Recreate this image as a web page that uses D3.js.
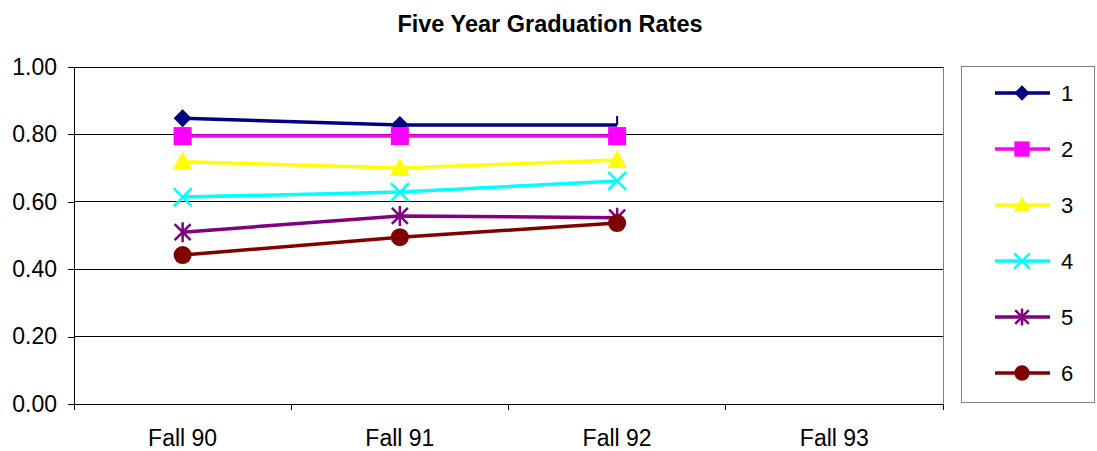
<!DOCTYPE html>
<html><head><meta charset="utf-8">
<script src="https://cdn.jsdelivr.net/npm/d3@7"></script>
<style>body{margin:0;background:#fff}svg{display:block}text{font-family:"Liberation Sans",Arial,sans-serif}</style>
</head><body>
<svg id="c" width="1097" height="451"></svg>
<script>
const categories = ["Fall 90", "Fall 91", "Fall 92", "Fall 93"];
const seriesNames = ["1", "2", "3", "4", "5", "6"];
const s1 = [0.848, 0.828, 0.828];
const s2 = [0.795, 0.795, 0.795];
const s3 = [0.719, 0.700, 0.724];
const s4 = [0.614, 0.629, 0.662];
const s5 = [0.510, 0.558, 0.553];
const s6 = [0.442, 0.495, 0.537];
const yTicks = [0, 0.2, 0.4, 0.6, 0.8, 1.0];
const colors = ["#000080", "#ff00ff", "#ffff00", "#00ffff", "#800080", "#800000"];
const markers = ["diamond", "square", "triangle", "x", "asterisk", "circle"];
const values = [s1, s2, s3, s4, s5, s6];

const svg = d3.select("#c");
const L = 74, R = 943, T = 67, B = 404;
const x = d3.scaleBand().domain(categories).range([L, R]);
const y = d3.scaleLinear().domain([0, 1]).range([B, T]);

svg.append("text").attr("x", 550).attr("y", 32).attr("text-anchor", "middle")
  .attr("font-size", 23.5).attr("font-weight", "bold").text("Five Year Graduation Rates");

svg.append("g").selectAll("line").data(yTicks.slice(1)).join("line")
  .attr("x1", L).attr("x2", R).attr("y1", d => y(d)).attr("y2", d => y(d))
  .attr("stroke", "#000").attr("stroke-width", 1).attr("shape-rendering", "crispEdges");
svg.append("line").attr("x1", R).attr("x2", R).attr("y1", T).attr("y2", B)
  .attr("stroke", "#808080").attr("shape-rendering", "crispEdges");

const yAxis = svg.append("g").attr("transform", `translate(${L},0)`)
  .call(d3.axisLeft(y).tickValues(yTicks).tickFormat(d3.format(".2f")).tickSizeOuter(0).tickSize(6).tickPadding(11));
yAxis.selectAll("text").attr("font-size", 23).attr("font-family", "Liberation Sans, Arial, sans-serif").attr("fill", "#000");
yAxis.selectAll("line,path").attr("stroke", "#000").attr("shape-rendering", "crispEdges");

const xAxis = svg.append("g").attr("transform", `translate(0,${B})`)
  .call(d3.axisBottom(x).tickSize(0).tickPadding(26));
xAxis.select("path").attr("stroke", "#000").attr("shape-rendering", "crispEdges");
xAxis.selectAll("text").attr("font-size", 23).attr("font-family", "Liberation Sans, Arial, sans-serif").attr("fill", "#000");
const bounds = categories.map(c => x(c)).concat([R]);
svg.append("g").selectAll("line").data(bounds).join("line")
  .attr("x1", d => d).attr("x2", d => d).attr("y1", B).attr("y2", B + 6)
  .attr("stroke", "#000").attr("shape-rendering", "crispEdges");

function drawMarker(g, type, color, cx, cy, k) {
  k = k || 1;
  if (type === "diamond") {
    const s = 9 * k;
    g.append("path").attr("d", `M${cx},${cy-s}L${cx+s},${cy}L${cx},${cy+s}L${cx-s},${cy}Z`).attr("fill", color);
  } else if (type === "square") {
    const s = 9 * k;
    g.append("rect").attr("x", cx-s).attr("y", cy-s).attr("width", 2*s).attr("height", 2*s).attr("fill", color);
  } else if (type === "triangle") {
    const s = 10 * k;
    g.append("path").attr("d", `M${cx},${cy-s}L${cx+s},${cy+0.8*s}L${cx-s},${cy+0.8*s}Z`).attr("fill", color);
  } else if (type === "x") {
    const s = 9 * k;
    g.append("path").attr("d", `M${cx-s},${cy-s}L${cx+s},${cy+s}M${cx+s},${cy-s}L${cx-s},${cy+s}`)
      .attr("stroke", color).attr("stroke-width", 2.5).attr("fill", "none");
  } else if (type === "asterisk") {
    const s = 8 * k;
    g.append("path").attr("d", `M${cx-s},${cy-s}L${cx+s},${cy+s}M${cx+s},${cy-s}L${cx-s},${cy+s}M${cx},${cy-1.25*s}L${cx},${cy+1.25*s}`)
      .attr("stroke", color).attr("stroke-width", 2.5).attr("fill", "none");
  } else if (type === "circle") {
    g.append("circle").attr("cx", cx).attr("cy", cy).attr("r", 9 * k).attr("fill", color);
  }
}

const line = d3.line().x((d, i) => x(categories[i]) + x.bandwidth() / 2).y(d => y(d));
values.forEach((vals, si) => {
  const g = svg.append("g");
  g.append("path").attr("d", line(vals)).attr("fill", "none").attr("stroke", colors[si]).attr("stroke-width", 3.5);
  if (si === 0) {
    const lx = x(categories[vals.length - 1]) + x.bandwidth() / 2;
    g.append("line").attr("x1", lx).attr("x2", lx).attr("y1", y(vals[vals.length-1])).attr("y2", y(vals[vals.length-1]) - 9)
      .attr("stroke", colors[0]).attr("stroke-width", 2);
    vals.slice(0, -1).forEach((v, i) => drawMarker(g, markers[si], colors[si], x(categories[i]) + x.bandwidth()/2, y(v)));
  } else {
    vals.forEach((v, i) => drawMarker(g, markers[si], colors[si], x(categories[i]) + x.bandwidth()/2, y(v)));
  }
});

const lg = svg.append("g");
lg.append("rect").attr("x", 961.5).attr("y", 66.5).attr("width", 133).attr("height", 336)
  .attr("fill", "#fff").attr("stroke", "#808080");
seriesNames.forEach((n, i) => {
  const ly = 93 + i * 56;
  lg.append("line").attr("x1", 995).attr("x2", 1050).attr("y1", ly).attr("y2", ly)
    .attr("stroke", colors[i]).attr("stroke-width", 3.5);
  drawMarker(lg, markers[i], colors[i], 1022, ly, 0.85);
  lg.append("text").attr("x", 1061).attr("y", ly + 8).attr("font-size", 22).text(n);
});
</script>
</body></html>
